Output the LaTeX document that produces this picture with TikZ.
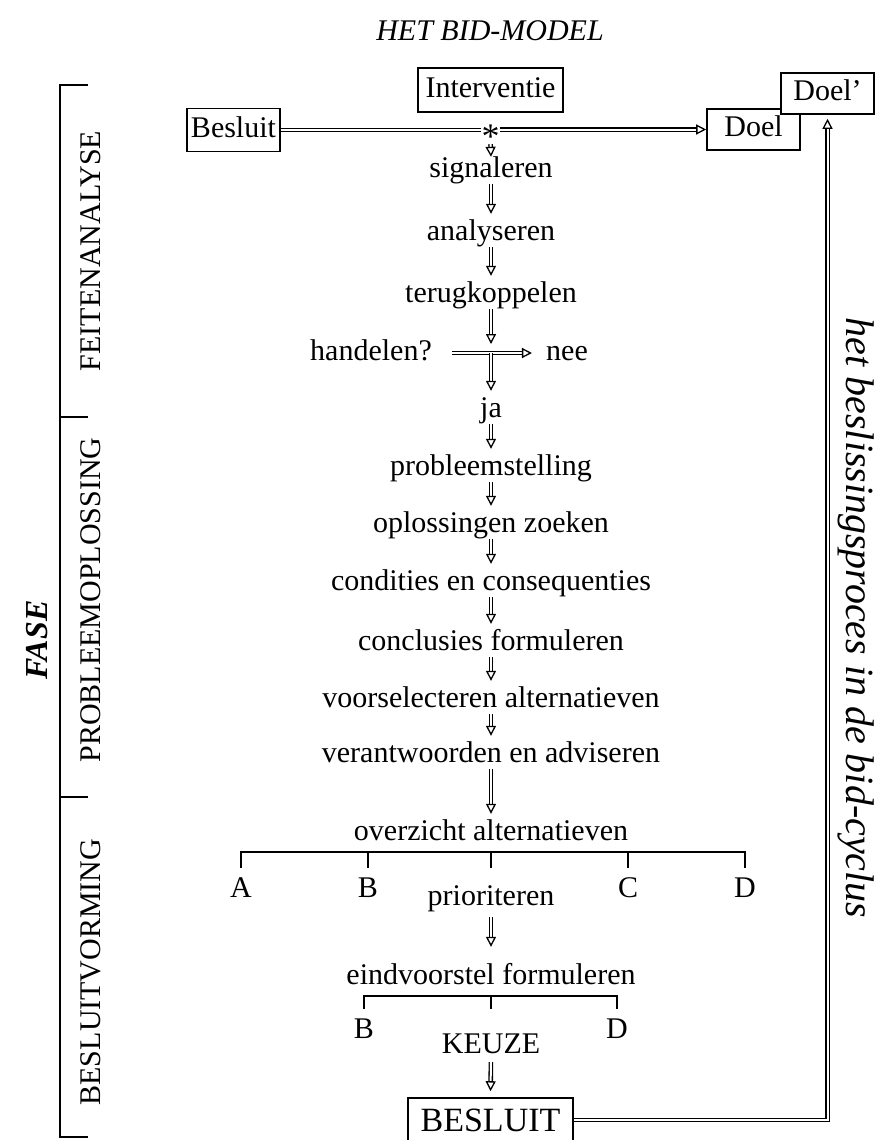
\documentclass[tikz,border=0pt]{standalone}
\usepackage{fontspec}
\setmainfont{Liberation Serif}
\usetikzlibrary{arrows.meta,calc}
\tikzset{
  lbl/.style={font=\fontsize{30}{30}\selectfont, inner sep=0pt, text height=26pt, text depth=7pt, anchor=base},
  letter/.style={font=\fontsize{30}{30}\selectfont, inner sep=0pt, text height=29pt, text depth=0pt, anchor=base},
  boxed/.style={draw, line width=1.6pt, inner sep=0pt, font=\fontsize{30}{30}\selectfont, text height=20pt, text depth=6pt},
  dbl/.style={double=white, double distance=2pt, line width=1.3pt},
  darr/.style={dbl, -{Triangle[open, length=10pt, width=10pt]}},
  brk/.style={line width=1.8pt},
  side/.style={rotate=90, anchor=base, inner sep=0pt, font=\fontsize{30}{30}\selectfont},
}
\begin{document}
\begin{tikzpicture}[x=1pt,y=-1pt]
\useasboundingbox (0,0) rectangle (877,1140);
\clip (0,0) rectangle (877,1140);
% title
\node[font=\fontsize{30}{30}\selectfont\itshape, anchor=base, inner sep=0pt] (title) at (490,41) {HET BID-MODEL};
% top boxes
\node[boxed, minimum width=145pt, minimum height=44pt] (int) at (490.5,90) {Interventie};
\node[boxed, minimum width=93pt, minimum height=43pt] (bes) at (233.5,130) {Besluit};
\node[boxed, minimum width=93pt, minimum height=41pt] (doel) at (753.5,129.5) {Doel};
\node[boxed, fill=white, minimum width=93pt, minimum height=41pt] (doelp) at (827.5,93.5) {Doel’};
\node[font=\fontsize{36}{36}\selectfont, inner sep=0pt, anchor=base] (star) at (490.5,148) {*};
\draw[dbl] (bes.east) -- (bes.east -| star.west);
\draw[darr] (star.east |- doel.west) -- (doel.west);
% main column
\node[lbl] (sig) at (491,177) {signaleren};
\node[lbl] (ana) at (491,240) {analyseren};
\node[lbl] (ter) at (491,302) {terugkoppelen};
\node[lbl] (han) at (371,360) {handelen?};
\node[lbl] (nee) at (567,360) {nee};
\coordinate (cross) at (491,353);
\node[lbl] (ja) at (491,417) {ja};
\node[lbl] (pro) at (491,475) {probleemstelling};
\node[lbl] (opl) at (491,532) {oplossingen zoeken};
\node[lbl] (con) at (491,590) {condities en consequenties};
\node[lbl] (clf) at (491,650) {conclusies formuleren};
\node[lbl] (vsa) at (491,707) {voorselecteren alternatieven};
\node[lbl] (vea) at (491,762) {verantwoorden en adviseren};
\node[lbl] (ovz) at (491,840) {overzicht alternatieven};
\draw[darr] ([yshift=4pt]star.south) -- ([yshift=-6pt]sig.north);
\draw[darr] (sig.south) -- (ana.north);
\draw[darr] (ana.south) -- (ter.north);
\draw[darr] (ter.south) -- ([yshift=9pt]cross);
\draw[darr, shorten <=20pt, shorten >=14pt] (han.east |- cross) -- (nee.west |- cross);
\draw[darr] (cross) -- (ja.north);
\draw[darr] (ja.south) -- (pro.north);
\draw[darr] (pro.south) -- (opl.north);
\draw[darr] (opl.south) -- (con.north);
\draw[darr] (con.south) -- (clf.north);
\draw[darr] (clf.south) -- (vsa.north);
\draw[darr] (vsa.south) -- (vea.north);
\draw[darr] (vea.south) -- (ovz.north);
% first alternatives bracket
\coordinate (br1) at (491,852);
\node[letter] (A) at (241,897) {A};
\node[letter] (B) at (368,897) {B};
\node[letter] (C) at (628,897) {C};
\node[letter] (D) at (745,897) {D};
\node[lbl] (pri) at (491,905) {prioriteren};
\draw[brk] (A.north) -- (A.north |- br1) -- (D.north |- br1) -- (D.north);
\draw[brk] (B.north |- br1) -- (B.north);
\draw[brk] (C.north |- br1) -- (C.north);
\draw[brk] (br1) -- (br1 |- A.north);
\node[lbl] (eind) at (491,984) {eindvoorstel formuleren};
\draw[darr, shorten <=5pt, shorten >=11pt] (pri.south) -- (eind.north);
% second bracket
\coordinate (br2) at (491,996);
\node[letter] (B2) at (364,1038) {B};
\node[letter] (D2) at (617,1038) {D};
\node[letter] (keuze) at (491,1053) {KEUZE};
\draw[brk] (B2.north) -- (B2.north |- br2) -- (D2.north |- br2) -- (D2.north);
\draw[brk] (br2) -- (br2 |- B2.north);
\node[draw, line width=1.6pt, inner sep=0pt, font=\fontsize{34}{34}\selectfont, text height=23pt, text depth=0pt, minimum width=165pt, minimum height=44pt] (besl) at (490.5,1120) {BESLUIT};
\draw[darr, shorten <=9pt, shorten >=6pt] (keuze.south) -- (besl.north);
\draw[darr, shorten >=4pt] (besl.east) -| (doelp.south);
% left phase bracket
\draw[brk] (88,85) -- (60,85) -- (60,1137) -- (88,1137);
\draw[brk] (60,417) -- (88,417);
\draw[brk] (60,797) -- (88,797);
\node[side] (fa) at (100,251) {FEITENANALYSE};
\node[side] (po) at (100,600) {PROBLEEMOPLOSSING};
\node[side] (bv) at (100,972) {BESLUITVORMING};
\node[rotate=90, anchor=base, inner sep=0pt, font=\fontsize{32}{32}\selectfont\bfseries\itshape] (fase) at (47,640) {FASE};
% right text
\node[rotate=-90, anchor=base, inner sep=0pt, font=\fontsize{40}{40}\selectfont\itshape] (cyc) at (846,618) {het beslissingsproces in de bid-cyclus};
\end{tikzpicture}
\end{document}
